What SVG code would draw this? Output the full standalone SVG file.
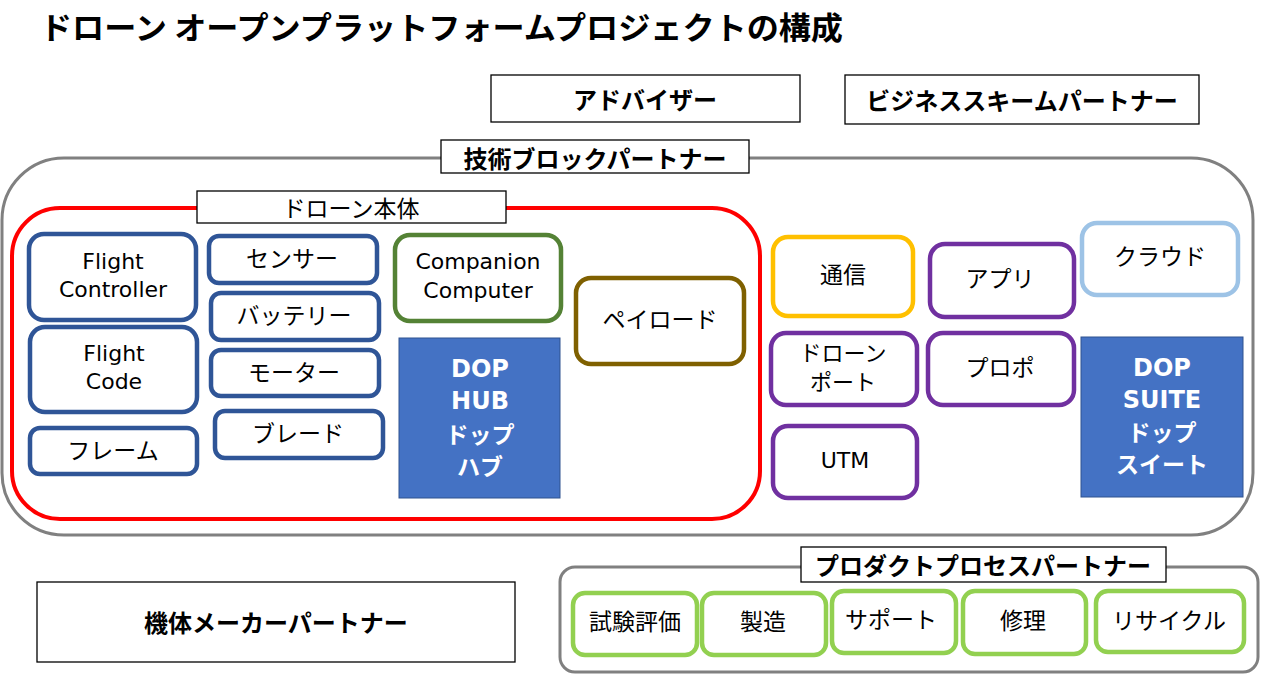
<svg xmlns="http://www.w3.org/2000/svg" width="1261" height="675" viewBox="0 0 1261 675">
<style>
text{font-family:"Noto Sans CJK JP",sans-serif;fill:#000;text-anchor:middle;dominant-baseline:central}
.lat{font-family:"DejaVu Sans","Noto Sans CJK JP",sans-serif;font-size:22px}
.jp{font-size:23px}
.jp2{font-size:22px}
.bold{font-weight:bold;font-size:24px}
.wt{fill:#fff;font-weight:bold;font-size:24px;font-family:"DejaVu Sans","Noto Sans CJK JP",sans-serif}
.wtj{fill:#fff;font-weight:bold;font-size:23px}
.lbl{fill:#fff;stroke:#000;stroke-width:1.3}
.blue{fill:#fff;stroke:#2F5597;stroke-width:4.5}
.purple{fill:#fff;stroke:#7030A0;stroke-width:4.5}
.green{fill:#fff;stroke:#92D050;stroke-width:4.5}
.hub{fill:#4472C4;stroke:#2F528F;stroke-width:1}
.grp{fill:#fff;stroke:#808080;stroke-width:3}
</style>
<text x="40" y="25" style="text-anchor:start;font-weight:bold;font-size:31px" textLength="803" lengthAdjust="spacingAndGlyphs">ドローン オープンプラットフォームプロジェクトの構成</text>

<g id="advisor"><rect class="lbl" x="491" y="75" width="309" height="47"/><text class="bold" x="645" y="98">アドバイザー</text></g>
<g id="business"><rect class="lbl" x="845" y="75" width="354" height="49"/><text class="bold" x="1022" y="99">ビジネススキームパートナー</text></g>

<g id="tech">
<rect class="grp" x="2" y="158" width="1251" height="377" rx="62"/>
<rect class="lbl" x="441" y="140" width="308" height="33"/>
<text class="bold" x="595" y="157">技術ブロックパートナー</text>
</g>

<g id="drone-body">
<rect x="12" y="208" width="748" height="311" rx="48" fill="#fff" stroke="#FF0000" stroke-width="4"/>
<rect class="lbl" x="197" y="191" width="309" height="32"/>
<text class="jp" x="351" y="207">ドローン本体</text>
</g>

<g id="flight-controller"><rect class="blue" x="29" y="234" width="167" height="86" rx="15"/><text class="lat" x="113" y="261">Flight</text><text class="lat" x="113" y="289">Controller</text></g>
<g id="flight-code"><rect class="blue" x="30" y="327" width="167" height="85" rx="15"/><text class="lat" x="114" y="353">Flight</text><text class="lat" x="114" y="381">Code</text></g>
<g id="frame"><rect class="blue" x="30" y="428" width="167" height="46" rx="10"/><text class="jp" x="113" y="449">フレーム</text></g>
<g id="sensor"><rect class="blue" x="209" y="236" width="168" height="47" rx="10"/><text class="jp" x="292" y="257">センサー</text></g>
<g id="battery"><rect class="blue" x="211" y="293" width="168" height="47" rx="10"/><text class="jp" x="294" y="314">バッテリー</text></g>
<g id="motor"><rect class="blue" x="211" y="350" width="168" height="46" rx="10"/><text class="jp" x="294" y="371">モーター</text></g>
<g id="blade"><rect class="blue" x="215" y="411" width="168" height="47" rx="10"/><text class="jp" x="298" y="432">ブレード</text></g>
<g id="companion"><rect x="395" y="235" width="166" height="86" rx="15" fill="#fff" stroke="#548235" stroke-width="4.5"/><text class="lat" x="478" y="261">Companion</text><text class="lat" x="478" y="290">Computer</text></g>
<g id="dop-hub"><rect class="hub" x="399" y="338" width="161" height="160"/><text class="wt" x="480" y="369">DOP</text><text class="wt" x="480" y="401">HUB</text><text class="wtj" x="480" y="433">ドップ</text><text class="wtj" x="480" y="465">ハブ</text></g>
<g id="payload"><rect x="576" y="278" width="168" height="86" rx="15" fill="#fff" stroke="#7F6000" stroke-width="4.5"/><text class="jp" x="660" y="318">ペイロード</text></g>

<g id="comm"><rect x="773" y="237" width="140" height="79" rx="15" fill="#fff" stroke="#FFC000" stroke-width="4.5"/><text class="jp" x="843" y="273">通信</text></g>
<g id="app"><rect class="purple" x="930" y="244" width="144" height="73" rx="15"/><text class="jp" x="1000" y="277">アプリ</text></g>
<g id="cloud"><rect x="1082" y="223" width="156" height="72" rx="15" fill="#fff" stroke="#9DC3E6" stroke-width="4.5"/><text class="jp" x="1160" y="255">クラウド</text></g>
<g id="drone-port"><rect class="purple" x="771" y="333" width="146" height="72" rx="15"/><text class="jp2" x="843" y="351">ドローン</text><text class="jp2" x="843" y="380">ポート</text></g>
<g id="propo"><rect class="purple" x="928" y="333" width="146" height="72" rx="15"/><text class="jp" x="1000" y="366">プロポ</text></g>
<g id="utm"><rect class="purple" x="773" y="426" width="144" height="72" rx="15"/><text class="lat" x="845" y="460">UTM</text></g>
<g id="dop-suite"><rect class="hub" x="1081" y="337" width="162" height="160"/><text class="wt" x="1162" y="368">DOP</text><text class="wt" x="1162" y="400">SUITE</text><text class="wtj" x="1162" y="431">ドップ</text><text class="wtj" x="1162" y="463">スイート</text></g>

<g id="maker"><rect class="lbl" x="37" y="582" width="478" height="80"/><text class="bold" x="276" y="621">機体メーカーパートナー</text></g>

<g id="product-process">
<rect class="grp" x="560" y="567" width="698" height="105" rx="15"/>
<rect class="lbl" x="801" y="547" width="365" height="35"/>
<text class="bold" x="983" y="564">プロダクトプロセスパートナー</text>
</g>
<g id="test"><rect class="green" x="573" y="593" width="124" height="62" rx="12"/><text class="jp" x="635" y="620">試験評価</text></g>
<g id="manufacture"><rect class="green" x="702" y="593" width="124" height="62" rx="12"/><text class="jp" x="763" y="620">製造</text></g>
<g id="support"><rect class="green" x="832" y="591" width="124" height="62" rx="12"/><text class="jp" x="891" y="618">サポート</text></g>
<g id="repair"><rect class="green" x="963" y="591" width="123" height="63" rx="12"/><text class="jp" x="1023" y="619">修理</text></g>
<g id="recycle"><rect class="green" x="1096" y="591" width="148" height="61" rx="12"/><text class="jp" x="1169" y="619">リサイクル</text></g>

<g id="connectors"></g>
</svg>
